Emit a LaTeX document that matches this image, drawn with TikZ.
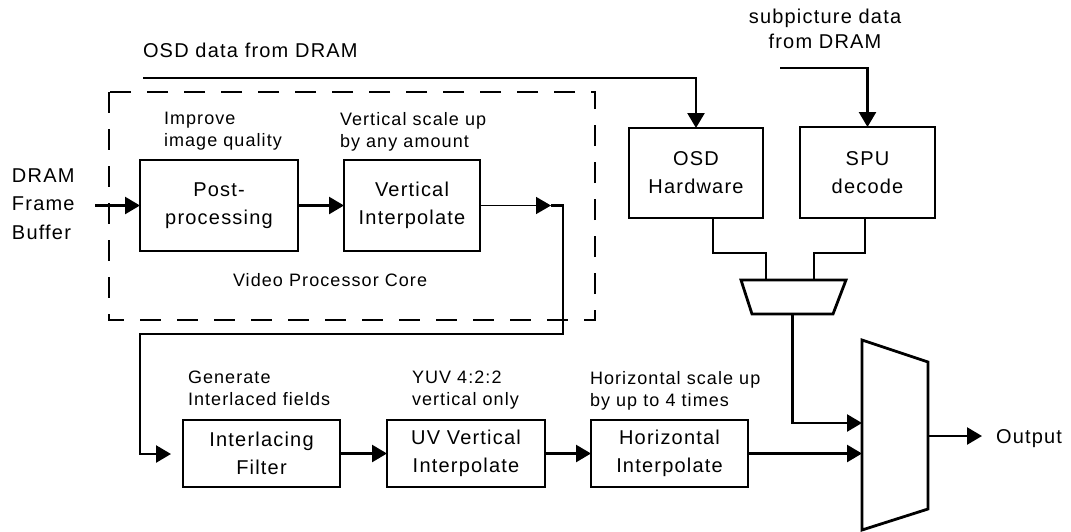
\documentclass[tikz,border=0pt]{standalone}
\usepackage{fontspec}
\setmainfont{Liberation Sans}[LetterSpace=6]
\usetikzlibrary{arrows.meta}

\begin{document}
\begin{tikzpicture}[x=1pt,y=-1pt,
  every node/.style={inner sep=0pt,outer sep=0pt},
  bigtext/.style={font=\fontsize{20}{28}\selectfont},
  note/.style={font=\fontsize{18}{22}\selectfont,align=left,anchor=north west},
  box/.style 2 args={draw,line width=2.8pt,minimum width=#1,minimum height=#2,
    align=center,bigtext},
  outline/.style={line width=2.8pt,line join=miter},
  wire/.style={line width=2.5pt},
  arr/.style={wire,-{Triangle[length=15pt,width=17pt]}},
  frame/.style={line width=2pt,dash pattern=on 21pt off 16pt}]

\useasboundingbox (0,0) rectangle (1071,531);

% ---------- video processor core ----------
\draw[frame] (109,92) rectangle (595,320);
\node[box={158pt}{91pt}] (post) at (219,205.5) {Post-\\processing};
\node[box={136pt}{91pt}] (vi)   at (412,205.5) {Vertical\\Interpolate};
\node[note] (npost) at (164,112) {Improve\\image quality};
\node[note] (nvi)   at (340,112) {Vertical scale up\\by any amount};
\node[font=\fontsize{18}{22}\selectfont,anchor=base west] (core) at (233,286) {Video Processor Core};

% ---------- frame buffer input ----------
\node[align=left,anchor=north west,font=\fontsize{20}{28.5}\selectfont] (dram) at (12,168.7) {DRAM\\Frame\\Buffer};
\coordinate (dramin) at (95,205.5);
\draw[arr] (dramin) -- (post.west);
\draw[arr] (post.east) -- (vi.west);
\coordinate (vitip) at (551,205.5);
\draw[line width=1.5pt,-{Triangle[length=15pt,width=17pt]}] (vi.east) -- (vitip);

% ---------- output chain ----------
\node[box={157pt}{67pt}] (ilf) at (261.5,453.5) {Interlacing\\Filter};
\node[box={158pt}{67pt}] (uv)  at (466,453.5)   {UV Vertical\\Interpolate};
\node[box={157pt}{67pt}] (hi)  at (669.5,453.5) {Horizontal\\Interpolate};
\node[note] (nilf) at (188,371) {Generate\\Interlaced fields};
\node[note] (nuv)  at (412,371) {YUV 4:2:2\\vertical only};
\node[note] (nhi)  at (590,371) {Horizontal scale up\\by up to 4 times};

\coordinate (ilftip) at (171,454);
\draw[arr] (vitip) -- (563,205.5) -- (563,334) -- (140,334) |- (ilftip);
\draw[arr] (ilf.east) -- (uv.west);
\draw[arr] (uv.east) -- (hi.west);

% ---------- OSD and sub-picture ----------
\node[box={134pt}{90pt}] (osd) at (696,173)   {OSD\\Hardware};
\node[box={135pt}{91pt}] (spu) at (867.5,172.5) {SPU\\decode};
\node[bigtext,anchor=base west] (osdtxt) at (143,57) {OSD data from DRAM};
\node[align=center,anchor=north,font=\fontsize{20}{25}\selectfont] (subtxt) at (825,8.7) {subpicture data\\from DRAM};
\coordinate (osdsrc) at (143,78);
\coordinate (spusrc) at (780,68);
\draw[arr] (osdsrc) -| (osd.north);
\draw[arr] (spusrc) -| (spu.north);

% ---------- overlay mixer ----------
\coordinate (smtl) at (741,280);
\coordinate (smtr) at (846,280);
\coordinate (smbr) at (833,314);
\coordinate (smbl) at (752,314);
\draw[outline] (smtl) -- (smtr) -- (smbr) -- (smbl) -- cycle;
\coordinate (smin1) at (766,280);
\coordinate (smin2) at (814,280);
\coordinate (smout) at (792.5,314);
\draw[wire] ([xshift=17pt]osd.south) -- ++(0,35) -| (smin1);
\draw[wire] ([xshift=-2.5pt]spu.south) -- ++(0,35) -| (smin2);

% ---------- output multiplexer ----------
\coordinate (bmtl) at (862,340);
\coordinate (bmtr) at (928,362);
\coordinate (bmbr) at (928,509);
\coordinate (bmbl) at (862,530);
\draw[outline] (bmtl) -- (bmtr) -- (bmbr) -- (bmbl) -- cycle;
\coordinate (bmin1) at (862,423);
\coordinate (bmin2) at (862,453.5);
\coordinate (bmout) at (928,436);
\coordinate (outtip) at (982,436);
\draw[arr] (smout) |- (bmin1);
\draw[arr] (hi.east) -- (bmin2);
\draw[arr] (bmout) -- (outtip);
\node[bigtext,anchor=base west] (outlbl) at (996,443) {Output};

\end{tikzpicture}
\end{document}
